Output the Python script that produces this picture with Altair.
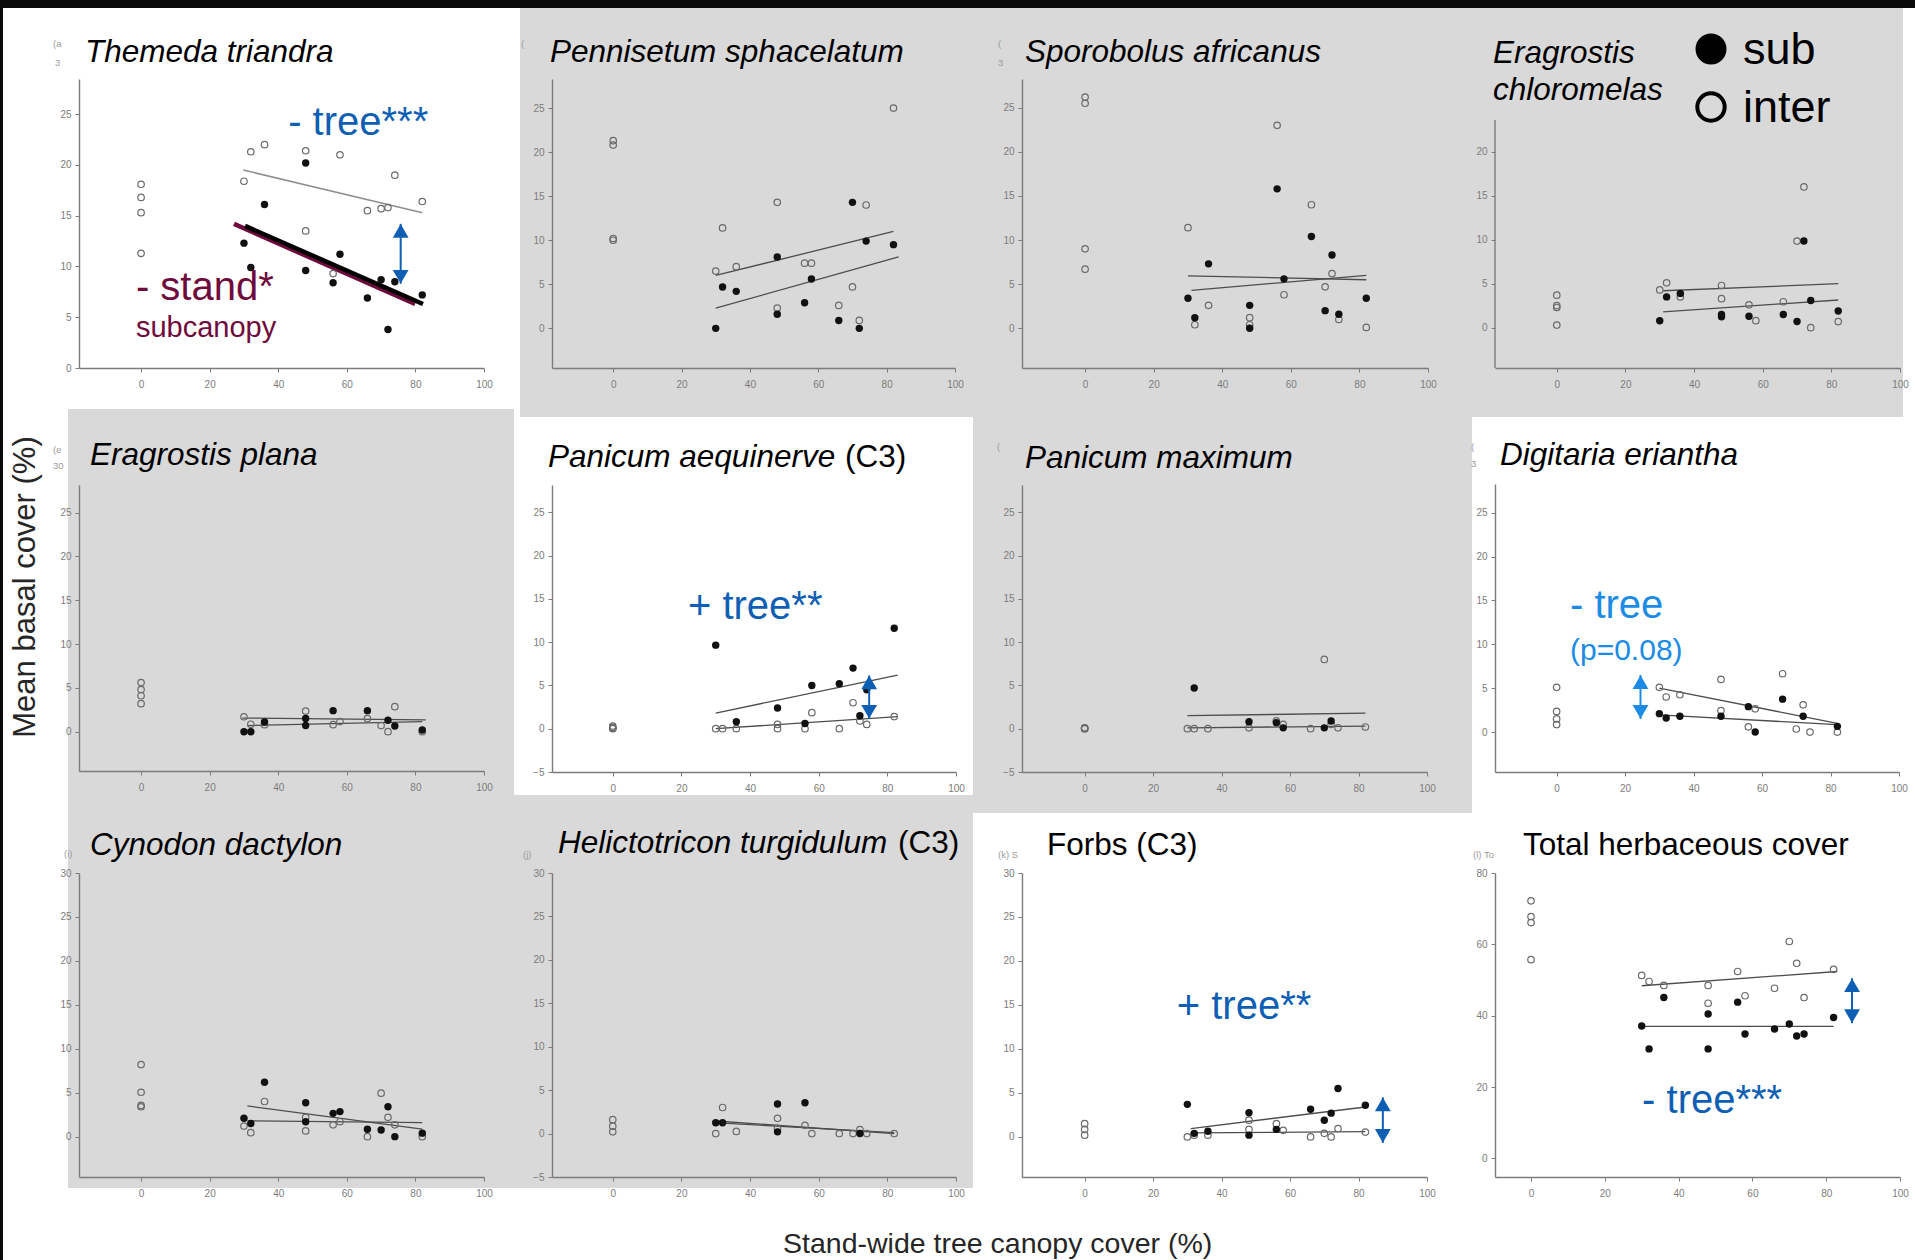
import altair as alt
import pandas as pd

W, H = 1915, 1260
FONT = "Liberation Sans"

# ---------------- data ----------------
STAND_X = [30, 32, 36, 48, 48, 56, 58, 66, 70, 72, 74, 82]

THEMEDA_SUB = [12.3, 9.9, 16.1, 20.2, 9.6, 8.4, 11.2, 6.9, 8.7, 3.8, 8.5, 7.2]
THEMEDA_INTER = [18.4, 21.3, 22.0, 21.4, 13.5, 9.3, 21.0, 15.5, 15.7, 15.8, 19.0, 16.4]
THEMEDA_TREELESS = [18.1, 16.8, 15.3, 11.3]
THEMEDA_LINES = {"stand": [27.1, 14.2, 79.9, 6.3], "sub": [30.3, 14.0, 82.2, 6.3], "inter": [29.8, 19.5, 82.0, 15.3]}

PENNISETUM_SUB = [0.0, 4.7, 4.2, 8.1, 1.6, 2.9, 5.6, 0.9, 14.3, 0.0, 9.9, 9.5]
PENNISETUM_INTER = [6.5, 11.4, 7.0, 14.3, 2.3, 7.4, 7.4, 2.6, 4.7, 0.9, 14.0, 25.0]
PENNISETUM_TREELESS = [21.3, 20.8, 10.2, 10.0]
PENNISETUM_LINES = {"sub": [30, 2.3, 83.5, 8.1], "inter": [30, 6.0, 82, 11.0]}

SPOROBOLUS_SUB = [3.4, 1.2, 7.3, 2.6, 0.0, 15.8, 5.6, 10.4, 2.0, 8.3, 1.6, 3.4]
SPOROBOLUS_INTER = [11.4, 0.4, 2.6, 1.2, 0.4, 23.0, 3.8, 14.0, 4.7, 6.2, 1.0, 0.1]
SPOROBOLUS_TREELESS = [26.2, 25.5, 9.0, 6.7]
SPOROBOLUS_LINES = {"sub": [30, 5.95, 82, 5.5], "inter": [31, 4.3, 82, 6.0]}

CHLOROMELAS_SUB = [0.8, 3.5, 3.9, 1.5, 1.25, 1.3, None, 1.5, 0.7, 9.85, 3.1, 1.9]
CHLOROMELAS_INTER = [4.3, 5.1, 3.5, 4.8, 3.3, 2.6, 0.8, 2.95, 9.85, 16.0, 0.0, 0.7]
CHLOROMELAS_TREELESS = [3.7, 2.5, 2.3, 0.3]
CHLOROMELAS_LINES = {"sub": [31, 1.8, 82, 3.15], "inter": [31, 4.2, 82, 5.0]}

PLANA_SUB = [0.0, 0.0, 1.1, 1.5, 0.7, 2.4, None, 2.4, None, 1.3, 0.65, 0.2]
PLANA_INTER = [1.7, 0.85, 0.8, 2.35, None, 0.8, 1.15, 1.5, 0.7, 0.0, 2.85, 0.0]
PLANA_TREELESS = [5.6, 4.8, 4.1, 3.2]
PLANA_LINES = {"sub": [31, 0.7, 82, 1.15], "inter": [29.5, 1.55, 83, 1.35]}

AEQUINERVE_SUB = [9.65, None, 0.8, 2.4, None, 0.6, 5.0, 5.2, 7.0, 1.5, 4.5, 11.6]
AEQUINERVE_INTER = [0.0, 0.0, 0.0, 0.5, 0.0, 0.0, 1.85, 0.0, 3.0, 0.9, 0.5, 1.4]
AEQUINERVE_TREELESS = [0.3, 0.15, 0.05, 0.0]
AEQUINERVE_LINES = {"sub": [30, 1.8, 83, 6.2], "inter": [30, 0.0, 83, 1.4]}

MAXIMUM_SUB = [None, 4.7, None, 0.8, None, 0.7, 0.1, None, 0.1, 0.9, None, None]
MAXIMUM_INTER = [0.0, 0.0, 0.0, 0.1, None, 0.9, 0.5, 0.0, 8.0, 0.5, 0.1, 0.2]
MAXIMUM_TREELESS = [0.1, 0.05, 0.0, 0.0]
MAXIMUM_LINES = {"sub": [30, 1.5, 82, 1.8], "inter": [30, 0.1, 82, 0.3]}

ERIANTHA_SUB = [2.1, 1.6, 1.8, 1.8, None, 2.9, 0.0, 3.75, None, 1.8, None, 0.65]
ERIANTHA_INTER = [5.1, 4.0, 4.25, 6.0, 2.45, 0.6, 2.65, 6.65, 0.35, 3.1, 0.0, 0.0]
ERIANTHA_TREELESS = [5.1, 2.35, 1.5, 0.85]
ERIANTHA_LINES = {"sub": [30, 1.95, 82, 0.85], "inter": [30, 5.0, 82, 1.0]}

CYNODON_SUB = [2.1, 1.5, 6.2, 3.85, 1.7, 2.65, 2.85, 0.85, 0.75, 3.4, 0.0, 0.4]
CYNODON_INTER = [1.2, 0.45, 4.0, 2.2, 0.65, 1.35, 1.7, 0.0, 4.95, 2.2, 1.35, 0.0]
CYNODON_TREELESS = [8.2, 5.05, 3.55, 3.4]
CYNODON_LINES = {"sub": [31, 3.5, 82, 0.85], "inter": [31, 1.8, 82, 1.6]}

HELICTOTRICON_SUB = [1.25, 1.25, None, 3.4, 0.2, 3.55, None, None, None, 0.0, None, None]
HELICTOTRICON_INTER = [0.0, 3.0, 0.25, 1.75, 0.6, 0.95, 0.0, 0.0, 0.0, 0.45, 0.0, 0.0]
HELICTOTRICON_TREELESS = [1.6, 0.85, 0.2]
HELICTOTRICON_LINES = {"sub": [30, 1.45, 82, 0.0], "inter": [32, 1.2, 82, 0.1]}

FORBS_SUB = [3.7, 0.4, 0.65, 2.75, 0.2, 0.85, None, 3.15, 1.9, 2.7, 5.5, 3.6]
FORBS_INTER = [0.0, 0.2, 0.2, 1.9, 0.85, 1.5, 0.75, 0.0, 0.4, 0.0, 0.95, 0.55]
FORBS_TREELESS = [1.5, 0.85, 0.2]
FORBS_LINES = {"sub": [31, 0.95, 82, 3.4], "inter": [31, 0.45, 82, 0.6]}

TOTAL_SUB = [37.1, 30.7, 45.1, 40.5, 30.7, 43.8, 34.9, 36.3, 37.7, 34.3, 34.9, 39.5]
TOTAL_INTER = [51.3, 49.6, 48.5, 48.5, 43.5, 52.4, 45.6, 47.7, 60.8, 54.7, 45.1, 53.0]
TOTAL_TREELESS = [72.2, 67.8, 66.1, 55.7]
TOTAL_LINES = {"sub": [30, 37.0, 82, 37.0], "inter": [30, 48.4, 83, 52.4]}

PANELS = [
    ("themeda", THEMEDA_SUB, THEMEDA_INTER, THEMEDA_TREELESS, THEMEDA_LINES),
    ("pennisetum", PENNISETUM_SUB, PENNISETUM_INTER, PENNISETUM_TREELESS, PENNISETUM_LINES),
    ("sporobolus", SPOROBOLUS_SUB, SPOROBOLUS_INTER, SPOROBOLUS_TREELESS, SPOROBOLUS_LINES),
    ("chloromelas", CHLOROMELAS_SUB, CHLOROMELAS_INTER, CHLOROMELAS_TREELESS, CHLOROMELAS_LINES),
    ("plana", PLANA_SUB, PLANA_INTER, PLANA_TREELESS, PLANA_LINES),
    ("aequinerve", AEQUINERVE_SUB, AEQUINERVE_INTER, AEQUINERVE_TREELESS, AEQUINERVE_LINES),
    ("maximum", MAXIMUM_SUB, MAXIMUM_INTER, MAXIMUM_TREELESS, MAXIMUM_LINES),
    ("eriantha", ERIANTHA_SUB, ERIANTHA_INTER, ERIANTHA_TREELESS, ERIANTHA_LINES),
    ("cynodon", CYNODON_SUB, CYNODON_INTER, CYNODON_TREELESS, CYNODON_LINES),
    ("helictotricon", HELICTOTRICON_SUB, HELICTOTRICON_INTER, HELICTOTRICON_TREELESS, HELICTOTRICON_LINES),
    ("forbs", FORBS_SUB, FORBS_INTER, FORBS_TREELESS, FORBS_LINES),
    ("total", TOTAL_SUB, TOTAL_INTER, TOTAL_TREELESS, TOTAL_LINES),
]

# ---------------- layout and styles ----------------
INK = "#111111"
OPEN_INK = "#6a6a6a"
LINE_INK = "#4d4d4d"
AXIS_INK = "#7c7c7c"
BLUE = "#0e5fb4"
LIGHT_BLUE = "#1c8be6"
MAROON = "#6e0b3c"
PANEL_GRAY = "#d9d9d9"
TEXT_INK = "#262626"

Y6 = [0, 5, 10, 15, 20, 25]
GEOM = {
    "themeda": dict(left=79, right=484, top=79, bottom=368, xdom=[-18.1, 100], ydom=[0, 28.47], yticks=Y6),
    "pennisetum": dict(left=552, right=955, top=79, bottom=368, xdom=[-17.9, 100], ydom=[-4.5, 28.3], yticks=Y6),
    "sporobolus": dict(left=1022, right=1428, top=79, bottom=368, xdom=[-18.4, 100], ydom=[-4.5, 28.25], yticks=Y6),
    "chloromelas": dict(left=1495, right=1900, top=79, bottom=368, xdom=[-18.0, 100], ydom=[-4.58, 28.27],
                        yticks=[0, 5, 10, 15, 20], ytop_line=23.6),
    "plana": dict(left=79, right=484, top=485, bottom=771, xdom=[-18.1, 100], ydom=[-4.49, 28.16], yticks=Y6),
    "aequinerve": dict(left=552, right=956, top=485, bottom=772, xdom=[-17.7, 100], ydom=[-5, 28.15], yticks=[-5] + Y6),
    "maximum": dict(left=1022, right=1427, top=485, bottom=772, xdom=[-18.3, 100], ydom=[-5, 28.15], yticks=[-5] + Y6),
    "eriantha": dict(left=1495, right=1899, top=484, bottom=772, xdom=[-18.0, 100], ydom=[-4.55, 28.27], yticks=Y6),
    "cynodon": dict(left=79, right=484, top=873, bottom=1177, xdom=[-18.1, 100], ydom=[-4.59, 30], yticks=Y6 + [30]),
    "helictotricon": dict(left=552, right=956, top=873, bottom=1177, xdom=[-17.7, 100], ydom=[-5, 30], yticks=[-5] + Y6 + [30]),
    "forbs": dict(left=1022, right=1427, top=873, bottom=1177, xdom=[-18.3, 100], ydom=[-4.56, 30], yticks=Y6 + [30]),
    "total": dict(left=1495, right=1900, top=873, bottom=1177, xdom=[-9.76, 100], ydom=[-5.2, 80], yticks=[0, 20, 40, 60, 80]),
}

SPECIAL_LINES = {
    ("themeda", "stand"): (MAROON, 4.5),
    ("themeda", "sub"): ("#000000", 4.5),
    ("themeda", "inter"): ("#8f8f8f", 1.5),
}

ANNOTATIONS = {
    "themeda": [("- tree***", 42.9, 23.0, 40, BLUE), ("- stand*", -1.5, 6.7, 40, MAROON),
                ("subcanopy", -1.5, 3.05, 29, MAROON)],
    "aequinerve": [("+ tree**", 21.9, 12.7, 40, BLUE)],
    "eriantha": [("- tree", 3.9, 13.0, 40, LIGHT_BLUE), ("(p=0.08)", 3.9, 8.2, 30, LIGHT_BLUE)],
    "forbs": [("+ tree**", 26.9, 13.4, 40, BLUE)],
    "total": [("- tree***", 30.1, 12.7, 40, BLUE)],
}
ARROWS = {
    "themeda": (75.7, 14.2, 8.3, BLUE),
    "aequinerve": (74.7, 6.15, 1.15, BLUE),
    "eriantha": (24.5, 6.5, 1.5, LIGHT_BLUE),
    "forbs": (87.1, 4.5, -0.68, BLUE),
    "total": (87.0, 50.5, 37.9, BLUE),
}

AXIS_COMMON = dict(title=None, grid=False, zindex=1, labelFont=FONT, labelFontSize=10,
                   labelColor=AXIS_INK, tickColor=AXIS_INK, tickSize=4, tickWidth=1,
                   domainColor=AXIS_INK, domainWidth=1.4, labelFlush=False, labelOverlap=False)


def build_panel(key, sub, inter, treeless, lines):
    g = GEOM[key]
    xs = alt.Scale(domain=g["xdom"], range=[g["left"], g["right"]], nice=False, zero=False)
    ys = alt.Scale(domain=g["ydom"], range=[g["bottom"], g["top"]], nice=False, zero=False)
    xax = alt.Axis(orient="bottom", offset=g["bottom"] - H, values=[0, 20, 40, 60, 80, 100],
                   labelPadding=7, **AXIS_COMMON)
    yax = alt.Axis(orient="left", offset=-g["left"], values=g["yticks"], labelPadding=4,
                   domain=("ytop_line" not in g), **AXIS_COMMON)

    def enc(xf="x", yf="y"):
        return dict(x=alt.X(xf, type="quantitative", scale=xs, axis=xax),
                    y=alt.Y(yf, type="quantitative", scale=ys, axis=yax))

    layers = []
    if "ytop_line" in g:
        rdf = pd.DataFrame({"x": [g["xdom"][0]], "y": [g["ydom"][0]], "y2": [g["ytop_line"]]})
        layers.append(alt.Chart(rdf).mark_rule(color=AXIS_INK, strokeWidth=1.4).encode(
            y2="y2:Q", **enc()))
    for name, (x1, y1, x2, y2) in lines.items():
        color, width = SPECIAL_LINES.get((key, name), (LINE_INK, 1.3))
        ldf = pd.DataFrame({"x": [x1, x2], "y": [y1, y2]})
        layers.append(alt.Chart(ldf).mark_line(color=color, strokeWidth=width).encode(**enc()))

    open_rows = [{"x": x, "y": v} for x, v in zip(STAND_X, inter) if v is not None]
    open_rows += [{"x": 0, "y": v} for v in treeless]
    fill_rows = [{"x": x, "y": v} for x, v in zip(STAND_X, sub) if v is not None]
    layers.append(alt.Chart(pd.DataFrame(open_rows)).mark_point(
        shape="circle", filled=False, size=42, strokeWidth=1.2, color=OPEN_INK, opacity=1).encode(**enc()))
    layers.append(alt.Chart(pd.DataFrame(fill_rows)).mark_point(
        shape="circle", filled=True, size=55, color=INK, opacity=1).encode(**enc()))

    for text, ax, ay, size, color in ANNOTATIONS.get(key, []):
        adf = pd.DataFrame({"x": [ax], "y": [ay], "t": [text]})
        layers.append(alt.Chart(adf).mark_text(align="left", baseline="alphabetic", font=FONT,
                                               fontSize=size, color=color).encode(text="t:N", **enc()))
    if key in ARROWS:
        axx, ytop, ybot, color = ARROWS[key]
        adf = pd.DataFrame({"x": [axx], "y": [ytop], "y2": [ybot]})
        layers.append(alt.Chart(adf).mark_rule(color=color, strokeWidth=2).encode(y2="y2:Q", **enc()))
        tdf = pd.DataFrame({"x": [axx], "y": [ytop]})
        bdf = pd.DataFrame({"x": [axx], "y": [ybot]})
        layers.append(alt.Chart(tdf).mark_point(shape="triangle-up", filled=True, size=250, color=color,
                                                opacity=1, yOffset=7).encode(**enc()))
        layers.append(alt.Chart(bdf).mark_point(shape="triangle-down", filled=True, size=250, color=color,
                                                opacity=1, yOffset=-7).encode(**enc()))
    return alt.layer(*layers)


# ---------------- page background (white page, black frame edge, grey panel blocks) ----------------
BG_RECTS = pd.DataFrame([
    {"x0": 0, "x1": W, "y0": 0, "y1": H, "fill": "#ffffff"},
    {"x0": 0, "x1": W, "y0": 0, "y1": 8, "fill": "#0a0a0a"},
    {"x0": 0, "x1": 3, "y0": 0, "y1": H, "fill": "#0a0a0a"},
    {"x0": 520, "x1": 1903, "y0": 8, "y1": 417, "fill": PANEL_GRAY},
    {"x0": 68, "x1": 514, "y0": 409, "y1": 1188, "fill": PANEL_GRAY},
    {"x0": 973, "x1": 1472, "y0": 417, "y1": 813, "fill": PANEL_GRAY},
    {"x0": 514, "x1": 973, "y0": 795, "y1": 1188, "fill": PANEL_GRAY},
])
background = alt.Chart(BG_RECTS).mark_rect().encode(
    x=alt.X("x0:Q", scale=None, axis=None), x2="x1:Q",
    y=alt.Y("y0:Q", scale=None, axis=None), y2="y1:Q",
    color=alt.Color("fill:N", scale=None),
)


def label(text, x, y, size, color="#000000", style="normal", angle=None, align="left"):
    kw = dict(align=align, baseline="alphabetic", font=FONT, fontSize=size, color=color, fontStyle=style)
    if angle is not None:
        kw["angle"] = angle
    return alt.Chart(pd.DataFrame({"t": [text]})).mark_text(**kw).encode(
        x=alt.value(x), y=alt.value(y), text="t:N")


TITLES = [
    ("Themeda triandra", 85, 62, "italic"),
    ("Pennisetum sphacelatum", 550, 62, "italic"),
    ("Sporobolus africanus", 1025, 62, "italic"),
    ("Eragrostis", 1493, 63, "italic"),
    ("chloromelas", 1493, 100, "italic"),
    ("Eragrostis plana", 90, 465, "italic"),
    ("Panicum aequinerve", 548, 467, "italic"),
    ("(C3)", 845, 467, "normal"),
    ("Panicum maximum", 1025, 468, "italic"),
    ("Digitaria eriantha", 1500, 465, "italic"),
    ("Cynodon dactylon", 90, 855, "italic"),
    ("Helictotricon turgidulum", 558, 853, "italic"),
    ("(C3)", 898, 853, "normal"),
    ("Forbs (C3)", 1047, 855, "normal"),
    ("Total herbaceous cover", 1523, 855, "normal"),
]
FRAGMENTS = [
    ("(a", 53, 47), ("3", 55, 66), ("(", 521, 47), ("(", 998, 47), ("3", 998, 66),
    ("(e", 53, 453), ("30", 53, 469), ("(", 997, 450), ("(", 1471, 450), ("3", 1471, 467),
    ("(i)", 64, 857), ("(j)", 523, 858), ("(k) S", 998, 858), ("(l) To", 1473, 858),
]

text_layers = [label(t, x, y, 31.5, "#000000", s) for t, x, y, s in TITLES]
text_layers += [label(t, x, y, 9.5, "#9a9a9a") for t, x, y in FRAGMENTS]
text_layers.append(label("Mean basal cover (%)", 35, 587, 31, TEXT_INK, angle=270, align="center"))
text_layers.append(label("Stand-wide tree canopy cover (%)", 783, 1253, 28.5, TEXT_INK))

# legend in the Eragrostis chloromelas panel
one = pd.DataFrame({"k": [0]})
legend_layers = [
    alt.Chart(one).mark_point(shape="circle", filled=True, size=960, color="#000000", opacity=1).encode(
        x=alt.value(1711), y=alt.value(49)),
    alt.Chart(one).mark_point(shape="circle", filled=False, size=750, strokeWidth=4, color="#000000",
                              opacity=1).encode(x=alt.value(1711), y=alt.value(107)),
    label("sub", 1743, 64, 45),
    label("inter", 1743, 122, 45),
]

panels = [build_panel(*p) for p in PANELS]

chart = alt.layer(background, *panels, *text_layers, *legend_layers).resolve_scale(
    x="independent", y="independent"
).properties(
    width=W, height=H, padding=0, autosize=alt.AutoSizeParams(type="none"), background="white"
).configure_view(stroke=None)

chart.save("out.html", embed_options={"renderer": "svg", "actions": False})
